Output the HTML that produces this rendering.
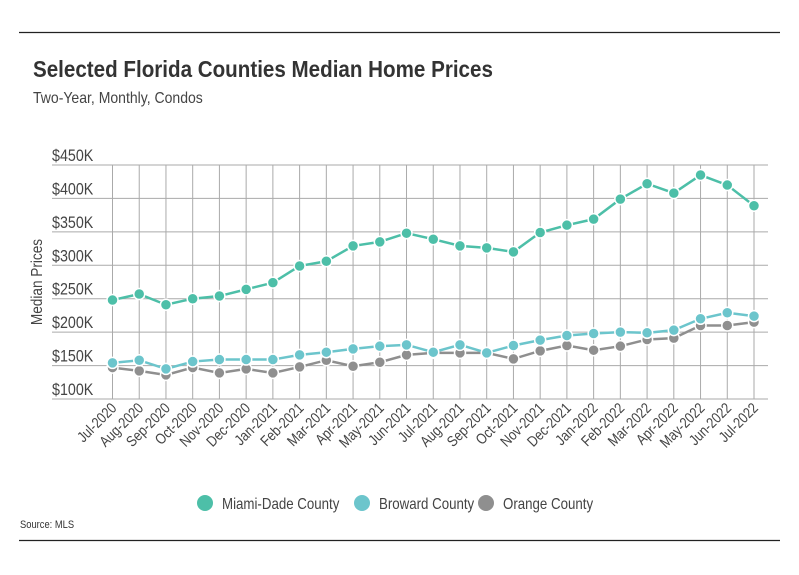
<!DOCTYPE html>
<html><head><meta charset="utf-8"><style>
body{margin:0;background:#fff;}
svg{display:block;font-family:"Liberation Sans Narrow","Liberation Sans",sans-serif;}
</style></head><body>
<svg id="c" width="799" height="575" viewBox="0 0 799 575">
<line x1="19" y1="32.5" x2="780" y2="32.5" stroke="#222" stroke-width="1.3"/>
<line x1="19" y1="540.5" x2="780" y2="540.5" stroke="#222" stroke-width="1.3"/>
<text x="33" y="77" font-size="23" font-weight="bold" fill="#333" data-sx="0.895">Selected Florida Counties Median Home Prices</text>
<text x="33" y="103" font-size="16" fill="#444" data-sx="0.876">Two-Year, Monthly, Condos</text>
<text transform="translate(42,282) rotate(-90)" text-anchor="middle" font-size="16" fill="#444" data-sx="0.85">Median Prices</text>
<text x="20" y="528" font-size="11" fill="#333" data-sx="0.85">Source:  MLS</text>
<g id="grid"></g><g id="series"></g><g id="xlabels"></g><g id="legend"></g>
</svg>
<script>
const categories=["Jul-2020","Aug-2020","Sep-2020","Oct-2020","Nov-2020","Dec-2020","Jan-2021","Feb-2021","Mar-2021","Apr-2021","May-2021","Jun-2021","Jul-2021","Aug-2021","Sep-2021","Oct-2021","Nov-2021","Dec-2021","Jan-2022","Feb-2022","Mar-2022","Apr-2022","May-2022","Jun-2022","Jul-2022"];
const miami=[248,257,241,250,254,264,274,299,306,329,335,348,339,329,326,320,349,360,369,399,422,408,435,420,389];
const broward=[154,158,145,156,159,159,159,166,170,175,179,181,170,181,169,180,188,195,198,200,199,203,220,229,224];
const orange=[147,142,136,147,139,145,139,148,158,149,155,166,169,169,169,160,172,180,173,179,189,191,210,210,215];
const yTicks=[100,150,200,250,300,350,400,450];
const seriesNames=["Miami-Dade County","Broward County","Orange County"];
const seriesColors=["#4dbfa8","#6cc5cc","#8f8f8f"];
const NS="http://www.w3.org/2000/svg";
const x=i=>112.5+i*(754-112.5)/(categories.length-1);
const y=v=>399-(v-100)*(234/350);
function mk(t,a,p){const e=document.createElementNS(NS,t);for(const k in a)e.setAttribute(k,a[k]);p.appendChild(e);return e;}
const g=document.getElementById('grid');
yTicks.forEach(v=>{
 const l=mk('line',{x1:52,x2:768,y1:y(v),y2:y(v),stroke:'#aaa','stroke-width':1},g);
 
 
 const t=mk('text',{x:52,y:y(v)-4,'font-size':17,fill:'#444','data-sx':0.84},g);t.textContent='$'+v+'K';
 
 
});
const xl=document.getElementById('xlabels');
categories.forEach((c,i)=>{
 const l=mk('line',{x1:x(i),x2:x(i),y1:y(450),y2:y(100),stroke:'#aaa','stroke-width':1},g);
 
 
 const t=mk('text',{transform:`translate(${x(i)+5},${y(100)+10}) rotate(-45)`,'text-anchor':'end','font-size':15,fill:'#444','data-sx':0.84},xl);
 t.textContent=c;
 
 
});
const sg=document.getElementById('series');
[miami,broward,orange].reverse().forEach((d,ri)=>{
 const si=2-ri;
 const p=mk('polyline',{points:d.map((v,i)=>x(i)+','+y(v)).join(' '),fill:'none',stroke:seriesColors[si],'stroke-width':2.5},sg);
 
 
 d.forEach((v,i)=>{
  const c=mk('circle',{cx:x(i),cy:y(v),r:5.5,fill:seriesColors[si],stroke:'#fff','stroke-width':1.5},sg);
  
  
 });
});
const lg=document.getElementById('legend');
const lx=[205,362,486];
seriesNames.forEach((n,i)=>{
 const c=mk('circle',{cx:lx[i],cy:503,r:8,fill:seriesColors[i]},lg);
 
 
 const t=mk('text',{x:lx[i]+17,y:509,'font-size':16,fill:'#444','data-sx':0.83},lg);t.textContent=n;
 
 
});
document.querySelectorAll('text[data-sx]').forEach(t=>{
 const w=t.getComputedTextLength()*parseFloat(t.getAttribute('data-sx'));
 t.setAttribute('textLength',w.toFixed(1));
 t.setAttribute('lengthAdjust','spacingAndGlyphs');
});
</script>
</body></html>
